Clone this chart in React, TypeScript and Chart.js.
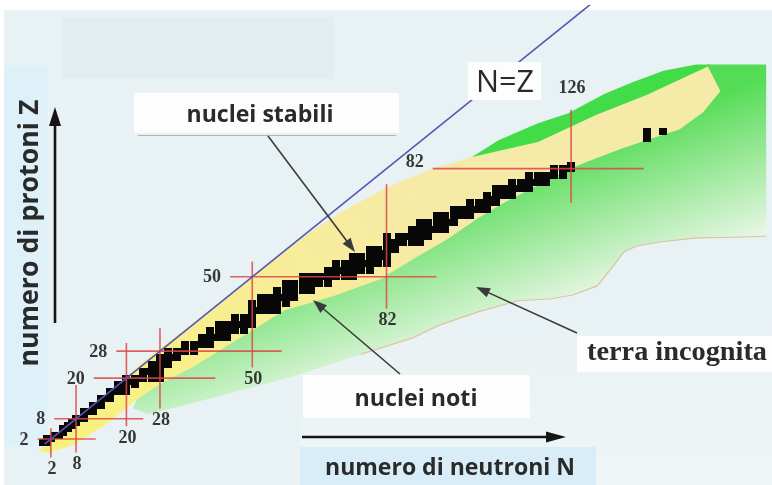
import React, { useEffect, useRef } from "react";
import { Chart, registerables } from "chart.js";

Chart.register(...registerables);

// ---- axis ranges (N = neutron number, Z = proton number)
const nMin = -8.94;
const nMax = 172.7;
const zMin = -10.14;
const zMax = 130.43;

// ---- magic numbers: horizontal lines at Z (spanning N), vertical lines at N (spanning Z)
const zMagic = [2, 8, 20, 28, 50, 82];
const zLineFromN = [-1.2, 2.8, 12.2, 17.6, 44.7, 93.0];
const zLineToN = [12.7, 24.0, 41.2, 57.0, 93.9, 143.3];
const nMagic = [2, 8, 20, 28, 50, 82, 126];
const nLineFromZ = [-3.5, -2.0, 5.8, 11.0, 23.2, 40.6, 71.9];
const nLineToZ = [5.2, 18.0, 30.4, 34.8, 54.5, 77.4, 99.4];

// ---- stable nuclei: proton number and neutron numbers of its stable isotopes
const stableZ = [1, 2, 3, 4, 5, 6, 7, 8, 9, 10, 11, 12, 13, 14, 15, 16, 17, 18, 19, 20,
  21, 22, 23, 24, 25, 26, 27, 28, 29, 30, 31, 32, 33, 34, 35, 36, 37, 38, 39, 40,
  41, 42, 44, 45, 46, 47, 48, 49, 50, 51, 52, 53, 54, 55, 56, 57, 58, 59, 60,
  62, 63, 64, 65, 66, 67, 68, 69, 70, 71, 72, 73, 74, 75, 76, 77, 78, 79, 80,
  81, 82, 83, 91, 93];
const stableN = [
  [0, 1], [1, 2], [3, 4], [5], [5, 6], [6, 7], [7, 8], [8, 9, 10], [10], [10, 11, 12],
  [12], [12, 13, 14], [14], [14, 15, 16], [16], [16, 17, 18, 20], [18, 20], [18, 20, 22], [20, 21, 22], [20, 22, 23, 24, 26, 28],
  [24], [24, 25, 26, 27, 28], [27, 28], [26, 28, 29, 30], [30], [28, 30, 31, 32], [32], [30, 32, 33, 34, 36], [34, 36], [34, 36, 37, 38, 40],
  [38, 40], [38, 40, 41, 42, 44], [42], [40, 42, 43, 44, 46, 48], [44, 46], [42, 44, 46, 47, 48, 50], [48, 50], [46, 48, 49, 50], [50], [50, 51, 52, 54, 56],
  [52], [50, 52, 53, 54, 55, 56, 58], [52, 54, 55, 56, 57, 58, 60], [58], [56, 58, 59, 60, 62, 64], [60, 62], [58, 60, 62, 63, 64, 65, 66, 68], [64, 66], [62, 64, 65, 66, 67, 68, 69, 70, 72, 74], [70, 72],
  [68, 70, 71, 72, 73, 74, 76, 78], [74], [70, 72, 74, 75, 76, 77, 78, 80, 82], [78], [74, 76, 78, 79, 80, 81, 82], [81, 82], [78, 80, 82, 84], [82], [82, 83, 84, 85, 86, 88, 90],
  [82, 85, 86, 87, 88, 90, 92], [88, 90], [88, 90, 91, 92, 93, 94, 96], [94], [90, 92, 94, 95, 96, 97, 98], [98], [94, 96, 98, 99, 100, 102], [100], [98, 100, 101, 102, 103, 104, 106], [104, 105],
  [102, 104, 105, 106, 107, 108], [107, 108], [106, 108, 109, 110, 112], [110, 112], [108, 110, 111, 112, 113, 114, 116], [114, 116], [112, 114, 116, 117, 118, 120], [118], [116, 118, 119, 120, 121, 122, 124],
  [122, 124], [122, 124, 125, 126], [126], [144], [144, 148]
];

// ---- regions of the chart (N, Z outline points)
const yellowN = [-0.9, 5.2, 14.6, 26.4, 38.1, 49.9, 61.6, 71.1, 81.2, 92.2, 101.6, 118.1, 132.2, 144.0, 158.6, 161.6, 157.4, 151.8, 137.6, 128.2, 115.8, 104.0, 96.2, 88.2, 80.5, 69.4, 57.6, 45.9, 35.8, 28.7, 22.4, 14.6, 6.8, 1.6, -0.9];
const yellowZ = [-1.7, 5.2, 15.1, 27.3, 38.3, 50.1, 61.4, 69.0, 75.9, 81.7, 85.2, 89.9, 98.0, 103.8, 112.2, 104.9, 98.6, 93.6, 87.8, 83.2, 76.2, 67.5, 60.9, 55.1, 49.3, 44.3, 40.0, 31.0, 23.2, 18.8, 13.6, 5.8, 0.0, -2.0, -1.7];
const brightN = [100.7, 108.7, 118.1, 125.2, 133.9, 140.5, 148.0, 155.8, 159.1, 155.8, 132.2, 104.0, 100.7];
const brightZ = [84.1, 90.4, 95.4, 98.3, 104.1, 107.5, 111.0, 112.8, 112.8, 104.4, 92.8, 82.6, 84.1];
const greenN = [158.6, 172.5, 172.5, 165.2, 155.8, 147.1, 141.7, 138.6, 135.8, 132.2, 126.4, 121.2, 113.4, 104.0, 94.6, 88.2, 75.8, 61.6, 45.2, 33.4, 25.2, 21.6, 22.8, 35.8, 57.6, 80.5, 104.0, 128.2, 151.8, 158.6];
const greenZ = [112.8, 112.8, 62.0, 61.7, 61.5, 60.3, 59.1, 57.4, 52.8, 47.3, 44.6, 43.5, 42.9, 39.7, 35.7, 31.9, 27.0, 21.2, 15.7, 11.9, 9.3, 11.0, 14.5, 23.8, 40.6, 49.9, 68.1, 83.5, 94.2, 112.8];
const tanN = [172.5, 165.2, 155.8, 147.1, 141.7, 138.6, 135.8, 132.2, 126.4, 121.2, 113.4, 104.0, 94.6, 88.2, 75.8];
const tanZ = [62.0, 61.7, 61.5, 60.3, 59.1, 57.4, 52.8, 47.3, 44.6, 43.5, 42.9, 39.7, 35.7, 31.9, 27.0];
const nzLine = [0.5, 131];

const W = 772;
const H = 485;
const SANS = "'Open Sans', 'DejaVu Sans', sans-serif";
const SERIF = "'Liberation Serif', 'DejaVu Serif', serif";

function fitText(c: CanvasRenderingContext2D, text: string, weight: string, family: string, targetW: number) {
  c.font = `${weight} 20px ${family}`;
  const w = c.measureText(text).width;
  const size = (20 * targetW) / w;
  c.font = `${weight} ${size.toFixed(2)}px ${family}`;
}

function arrow(c: CanvasRenderingContext2D, x1: number, y1: number, x2: number, y2: number, lw: number, headLen: number, headW: number, color: string) {
  const a = Math.atan2(y2 - y1, x2 - x1);
  const cs = Math.cos(a), sn = Math.sin(a);
  c.strokeStyle = color;
  c.lineWidth = lw;
  c.beginPath();
  c.moveTo(x1, y1);
  c.lineTo(x2 - cs * headLen * 0.8, y2 - sn * headLen * 0.8);
  c.stroke();
  c.fillStyle = color;
  c.beginPath();
  c.moveTo(x2, y2);
  c.lineTo(x2 - headLen * cs + (headW / 2) * sn, y2 - headLen * sn - (headW / 2) * cs);
  c.lineTo(x2 - headLen * cs - (headW / 2) * sn, y2 - headLen * sn + (headW / 2) * cs);
  c.closePath();
  c.fill();
}

const backgroundPlugin = {
  id: "bgPaper",
  beforeDraw(chart: any) {
    const c = chart.ctx as CanvasRenderingContext2D;
    c.save();
    c.fillStyle = "#ffffff";
    c.fillRect(0, 0, W, H);
    c.fillStyle = "#e8f1f3";
    c.fillRect(4, 10, W - 4, H - 10);
    c.fillStyle = "#e3edf0";
    c.fillRect(62, 17, 272, 62);
    c.fillStyle = "#def0f8";
    c.fillRect(5, 66, 42, 380);
    const g = c.createLinearGradient(0, 300, 0, 485);
    g.addColorStop(0, "rgba(240,246,248,0)");
    g.addColorStop(1, "rgba(240,246,248,0.8)");
    c.fillStyle = g;
    c.fillRect(300, 300, 472, 185);
    c.fillStyle = "#d8edf7";
    c.fillRect(300, 447, 296, 38);
    c.restore();
  },
};

const annotationPlugin = {
  id: "annotations",
  afterDatasetsDraw(chart: any) {
    const c = chart.ctx as CanvasRenderingContext2D;
    const xs = chart.scales.x;
    const ys = chart.scales.y;
    c.save();
    // magic number labels
    c.fillStyle = "#363636";
    c.font = `bold 18px ${SERIF}`;
    c.textAlign = "center";
    c.textBaseline = "middle";
    zMagic.forEach((z, i) => {
      const label = String(z);
      const w = c.measureText(label).width;
      const px = xs.getPixelForValue(zLineFromN[i]) - w / 2 - 9;
      const py = ys.getPixelForValue(z) + (z === 82 ? -6 : 1);
      c.fillText(label, px, py);
    });
    nMagic.forEach((n, i) => {
      const label = String(n);
      const px = xs.getPixelForValue(n) + 1;
      const py = n === 126 ? ys.getPixelForValue(nLineToZ[i]) - 22 : ys.getPixelForValue(nLineFromZ[i]) + 12;
      c.fillText(label, px, py);
    });

    // white label boxes
    c.fillStyle = "#fdfdfd";
    c.fillRect(134, 93, 265, 40);
    c.fillRect(468, 62, 73, 38);
    c.fillRect(303, 375, 227, 43);
    c.fillRect(577, 336, 195, 36);
    c.strokeStyle = "#b0b4b6";
    c.lineWidth = 1;
    c.beginPath();
    c.moveTo(138, 135.5);
    c.lineTo(396, 135.5);
    c.stroke();

    // pointer arrows
    arrow(c, 268, 136, 355, 252, 1.6, 14, 10, "#3a3a3a");
    arrow(c, 400, 374, 313, 300, 1.6, 14, 10, "#3a3a3a");
    arrow(c, 577, 333, 476, 287, 1.6, 14, 10, "#3a3a3a");

    // axis arrows
    arrow(c, 55, 323, 55, 107, 2.6, 19, 12, "#151515");
    arrow(c, 302, 437, 566, 437, 2.6, 20, 11, "#151515");

    // texts
    c.fillStyle = "#2a2a2a";
    c.textAlign = "center";
    c.textBaseline = "middle";
    fitText(c, "nuclei stabili", "bold", SANS, 147);
    c.fillText("nuclei stabili", 260, 115);
    fitText(c, "nuclei noti", "bold", SANS, 123);
    c.fillText("nuclei noti", 416, 399);
    fitText(c, "numero di neutroni N", "bold", SANS, 250);
    c.fillText("numero di neutroni N", 450, 468);
    fitText(c, "N=Z", "400", SANS, 58);
    c.fillText("N=Z", 505, 83);
    fitText(c, "terra incognita", "bold", SERIF, 180);
    c.fillText("terra incognita", 677, 353);
    c.save();
    c.translate(30, 233);
    c.rotate(-Math.PI / 2);
    fitText(c, "numero di protoni Z", "bold", SANS, 267);
    c.fillText("numero di protoni Z", 0, 0);
    c.restore();
    c.restore();
  },
};

const pts = (ns: number[], zs: number[]) => ns.map((n, i) => ({ x: n, y: zs[i] }));

export default function App() {
  const ref = useRef<HTMLCanvasElement>(null);

  useEffect(() => {
    const canvas = ref.current;
    if (!canvas) return;

    const cell = document.createElement("canvas");
    cell.width = 8;
    cell.height = 7;
    const cc = cell.getContext("2d")!;
    cc.fillStyle = "#080808";
    cc.fillRect(0, 0, 8, 7);

    const stablePoints = stableZ.flatMap((z, i) => stableN[i].map((n) => ({ x: n, y: z })));

    const none = "rgba(0,0,0,0)";
    const datasets: any[] = [];

    datasets.push({
      label: "terra incognita",
      data: pts(greenN, greenZ),
      showLine: true,
      fill: "shape",
      borderColor: none,
      borderWidth: 0.1,
      pointRadius: 0,
      backgroundColor: (ctx: any) => {
        const g = ctx.chart.ctx.createLinearGradient(450, 190, 500, 330);
        g.addColorStop(0, "#55dc55");
        g.addColorStop(0.5, "#a0e99e");
        g.addColorStop(1, "#e8f7e6");
        return g;
      },
      order: 10,
    });
    datasets.push({
      label: "drip",
      data: pts(brightN, brightZ),
      showLine: true,
      fill: "shape",
      borderColor: none,
      borderWidth: 0.1,
      pointRadius: 0,
      backgroundColor: "#41dc47",
      order: 9,
    });
    datasets.push({
      label: "nuclei noti",
      data: pts(yellowN, yellowZ),
      showLine: true,
      fill: "shape",
      borderColor: none,
      borderWidth: 0.1,
      pointRadius: 0,
      backgroundColor: (ctx: any) => {
        const g = ctx.chart.ctx.createLinearGradient(40, 450, 420, 180);
        g.addColorStop(0, "#f8f27a");
        g.addColorStop(1, "#f6eaa8");
        return g;
      },
      order: 8,
    });
    datasets.push({
      label: "limite",
      data: pts(tanN, tanZ),
      showLine: true,
      fill: false,
      borderColor: "#dcc3a2",
      borderWidth: 1.2,
      pointRadius: 0,
      order: 7,
    });
    datasets.push({
      label: "nuclei stabili",
      data: stablePoints,
      showLine: false,
      pointStyle: cell,
      pointRadius: 3,
      order: 6,
    });
    zMagic.forEach((z, i) => {
      datasets.push({
        label: `Z=${z}`,
        data: [{ x: zLineFromN[i], y: z }, { x: zLineToN[i], y: z }],
        showLine: true,
        borderColor: "rgba(222,70,70,0.85)",
        borderWidth: 1.6,
        pointRadius: 0,
        order: 5,
      });
    });
    nMagic.forEach((n, i) => {
      datasets.push({
        label: `N=${n}`,
        data: [{ x: n, y: nLineFromZ[i] }, { x: n, y: nLineToZ[i] }],
        showLine: true,
        borderColor: "rgba(222,70,70,0.85)",
        borderWidth: 1.6,
        pointRadius: 0,
        order: 5,
      });
    });
    datasets.push({
      label: "N=Z",
      data: [{ x: nzLine[0], y: nzLine[0] }, { x: nzLine[1], y: nzLine[1] }],
      showLine: true,
      borderColor: "#5656b6",
      borderWidth: 1.6,
      pointRadius: 0,
      order: 4,
    });

    const chart = new Chart(canvas, {
      type: "scatter",
      data: { datasets },
      options: {
        responsive: false,
        animation: false,
        events: [],
        layout: { padding: 0 },
        elements: { line: { tension: 0 } },
        scales: {
          x: { type: "linear", min: nMin, max: nMax, display: false },
          y: { type: "linear", min: zMin, max: zMax, display: false },
        },
        plugins: {
          legend: { display: false },
          tooltip: { enabled: false },
        },
      },
      plugins: [backgroundPlugin, annotationPlugin],
    } as any);

    return () => chart.destroy();
  }, []);

  return (
    <div style={{ position: "absolute", left: 0, top: 0, width: W, height: H }}>
      <canvas ref={ref} width={W} height={H} style={{ display: "block" }} />
    </div>
  );
}
